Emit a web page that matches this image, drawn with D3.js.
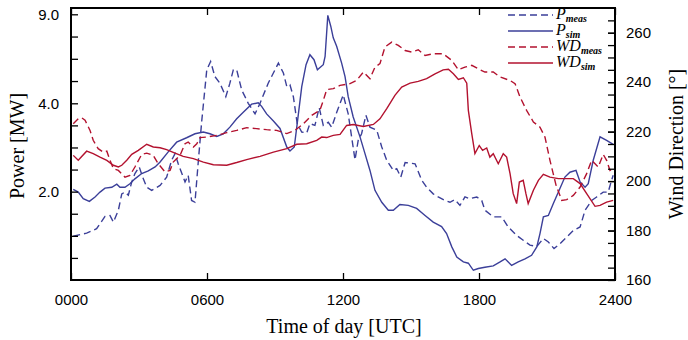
<!DOCTYPE html>
<html>
<head>
<meta charset="utf-8">
<script src="https://cdn.jsdelivr.net/npm/d3@7"></script>
<style>
  body { margin: 0; background: #fff; }
</style>
</head>
<body>
<div id="chart"></div>
<script>
const width = 688;
const height = 340;
const margin = {top: 8, right: 73, bottom: 60, left: 71};

// time of day in hours, power in MW, wind direction in degrees
const timeTicks = [0, 6, 12, 18, 24];
const timeLabels = ["0000", "0600", "1200", "1800", "2400"];
const powerTicks = [2, 4, 9];
const powerMinor = [0.5, 1, 1.5, 2.5, 3, 3.5, 5.25, 6.5, 7.75];
const wdTicks = [160, 180, 200, 220, 240, 260];
const wdMinor = d3.range(165, 270, 5);

const pMeas = [
  [0.10,0.99],[0.69,1.06],[1.13,1.16],[1.50,1.44],[1.72,1.46],[1.87,1.31],[2.09,1.58],[2.24,1.95],
  [2.38,1.99],[2.53,1.92],[2.68,2.22],[2.82,2.41],[3.01,2.56],[3.16,2.33],[3.34,2.10],[3.56,2.03],
  [3.93,2.14],[4.22,2.33],[4.44,2.71],[4.59,2.86],[4.73,2.63],[5.03,2.22],[5.17,2.37],[5.32,1.80],
  [5.47,1.76],[5.62,2.71],[5.77,3.61],[5.99,5.88],[6.16,6.35],[6.35,5.50],[6.57,5.13],[6.83,4.37],
  [7.01,5.13],[7.16,5.88],[7.31,5.88],[7.53,4.75],[7.82,4.00],[8.12,3.76],[8.34,4.00],[8.70,5.13],
  [9.15,6.26],[9.37,5.70],[9.52,4.94],[9.66,5.04],[9.81,4.37],[9.98,3.54],[10.18,3.35],[10.40,3.33],
  [10.54,3.54],[10.76,3.50],[10.95,3.90],[11.13,3.50],[11.35,3.57],[11.50,3.46],[11.72,3.79],[12.01,4.47],
  [12.23,3.76],[12.53,2.72],[12.67,3.16],[12.82,3.31],[13.01,3.73],[13.19,3.46],[13.49,3.39],[13.71,3.01],
  [13.93,2.71],[14.22,2.48],[14.37,2.52],[14.55,2.33],[14.74,2.66],[15.18,2.63],[15.47,2.26],[15.69,2.10],
  [15.98,1.95],[16.20,1.88],[16.50,1.80],[16.72,1.76],[16.94,1.82],[17.16,1.69],[17.38,1.88],[17.60,1.84],
  [17.90,1.88],[18.12,1.80],[18.26,1.58],[18.63,1.43],[19.00,1.43],[19.29,1.20],[19.66,1.01],[19.95,0.90],
  [20.25,0.79],[20.55,0.76],[20.84,0.94],[21.06,0.86],[21.31,0.71],[21.57,0.82],[21.87,0.97],[22.16,1.12],
  [22.46,1.20],[22.68,1.58],[22.97,1.80],[23.19,1.88],[23.48,1.99],[23.70,1.99],[23.85,2.26],[23.92,2.37]
];

const pSim = [
  [0.10,2.05],[0.32,1.99],[0.54,1.84],[0.81,1.78],[1.06,1.88],[1.28,1.99],[1.50,2.08],[1.80,2.10],
  [2.02,2.17],[2.16,2.10],[2.38,2.10],[2.60,2.18],[2.82,2.29],[3.12,2.41],[3.41,2.47],[3.71,2.56],
  [3.93,2.67],[4.29,2.90],[4.66,3.12],[5.10,3.22],[5.47,3.31],[5.84,3.35],[6.13,3.31],[6.43,3.25],
  [6.72,3.31],[7.01,3.46],[7.31,3.65],[7.60,3.80],[7.97,3.98],[8.26,4.03],[8.41,3.93],[8.63,3.76],
  [8.93,3.60],[9.22,3.43],[9.52,3.01],[9.66,2.92],[9.85,3.01],[9.98,3.54],[10.18,4.94],[10.37,6.17],
  [10.54,6.73],[10.72,6.45],[10.87,5.88],[11.13,6.17],[11.21,6.64],[11.33,8.94],[11.46,8.33],[11.57,7.68],
  [11.72,7.20],[11.94,6.26],[12.09,5.50],[12.23,4.37],[12.45,3.69],[12.75,3.24],[12.97,2.86],[13.19,2.48],
  [13.41,2.03],[13.71,1.76],[14.00,1.58],[14.22,1.58],[14.51,1.71],[14.88,1.69],[15.25,1.62],[15.62,1.46],
  [15.98,1.31],[16.35,1.21],[16.57,1.05],[16.80,0.75],[17.02,0.52],[17.31,0.41],[17.53,0.38],[17.75,0.22],
  [17.97,0.26],[18.26,0.29],[18.63,0.32],[18.93,0.41],[19.15,0.48],[19.44,0.33],[19.73,0.41],[20.03,0.48],
  [20.32,0.56],[20.55,0.75],[20.69,1.05],[20.84,1.43],[21.06,1.46],[21.28,1.73],[21.57,2.07],[21.79,2.33],
  [22.01,2.44],[22.28,2.48],[22.46,2.22],[22.68,2.10],[22.82,2.18],[23.04,2.71],[23.34,3.24],[23.63,3.16],
  [23.92,3.07]
];

const wdMeas = [
  [0.10,223.2],[0.32,225.2],[0.47,225.6],[0.62,224.6],[0.84,220.5],[0.98,216.5],[1.20,213.1],[1.42,211.7],
  [1.58,212.1],[1.72,208.4],[1.87,205.0],[2.09,204.3],[2.38,201.6],[2.60,202.3],[2.82,205.7],[3.12,210.8],
  [3.34,211.3],[3.63,210.4],[3.85,207.0],[4.15,203.7],[4.37,204.3],[4.51,207.7],[4.81,210.4],[5.03,215.1],
  [5.17,215.8],[5.40,213.8],[5.55,215.1],[5.69,217.6],[5.99,217.8],[6.43,218.5],[6.87,219.6],[7.31,220.5],
  [7.75,221.6],[8.19,221.2],[8.63,220.8],[9.07,220.5],[9.52,219.2],[9.88,220.5],[10.25,223.2],[10.62,226.6],
  [10.98,228.6],[11.13,232.6],[11.28,237.0],[11.57,237.4],[11.87,238.7],[12.31,239.4],[12.60,240.7],[12.90,244.1],
  [13.19,241.4],[13.41,246.1],[13.63,247.5],[13.85,254.2],[14.15,256.2],[14.44,254.9],[14.74,252.8],[15.03,252.2],
  [15.32,253.1],[15.62,250.8],[15.98,251.5],[16.42,251.5],[16.80,248.8],[17.09,245.0],[17.38,246.1],[17.68,246.8],
  [17.97,245.4],[18.26,244.1],[18.63,244.1],[18.93,242.1],[19.37,240.7],[19.59,239.4],[19.81,234.0],[20.10,228.6],
  [20.40,223.9],[20.69,221.8],[20.91,217.8],[21.13,208.4],[21.40,198.3],[21.65,192.2],[21.87,192.5],[22.16,194.2],
  [22.46,197.6],[22.75,203.0],[22.97,208.4],[23.12,207.0],[23.26,205.7],[23.48,210.8],[23.63,208.4],[23.78,204.3],
  [23.92,205.0]
];

const wdSim = [
  [0.10,210.4],[0.32,208.4],[0.69,212.1],[0.98,211.1],[1.28,209.7],[1.58,208.4],[1.87,206.4],[2.09,205.7],
  [2.24,206.4],[2.46,208.4],[2.68,210.8],[2.97,212.4],[3.34,214.9],[3.63,213.8],[3.93,213.5],[4.22,212.7],
  [4.59,211.3],[4.95,210.0],[5.40,209.1],[5.84,207.7],[6.28,206.6],[6.87,206.4],[7.31,207.5],[7.75,208.7],
  [8.34,210.0],[8.93,211.7],[9.52,213.1],[9.96,214.9],[10.40,215.1],[10.84,216.5],[11.06,217.8],[11.28,217.6],
  [11.57,218.5],[11.87,218.9],[12.16,222.5],[12.45,222.9],[12.90,222.1],[13.34,222.9],[13.63,225.2],[13.93,229.3],
  [14.29,234.7],[14.59,238.0],[14.96,239.6],[15.32,240.3],[15.69,241.4],[16.06,243.4],[16.42,245.0],[16.65,245.2],
  [16.87,243.4],[17.09,241.1],[17.31,241.8],[17.46,239.6],[17.53,228.6],[17.68,219.2],[17.82,211.1],[18.01,214.4],
  [18.16,212.4],[18.34,213.4],[18.48,209.7],[18.63,211.1],[18.85,207.0],[19.07,211.1],[19.22,209.7],[19.37,203.0],
  [19.51,194.9],[19.66,190.9],[19.78,199.6],[19.95,200.3],[20.07,194.9],[20.17,190.9],[20.40,196.3],[20.62,200.3],
  [20.84,202.7],[21.13,201.6],[21.50,201.0],[21.79,201.0],[22.16,201.0],[22.46,199.0],[22.75,194.9],[23.12,189.8],
  [23.34,190.2],[23.63,191.5],[23.92,192.2]
];

const blue = "#3b3f99";
const red = "#b3122f";

const series = [
  {name: "P", sub: "meas", data: pMeas, axis: "power", color: blue, dash: "7,4"},
  {name: "P", sub: "sim", data: pSim, axis: "power", color: blue, dash: null},
  {name: "WD", sub: "meas", data: wdMeas, axis: "wd", color: red, dash: "7,4"},
  {name: "WD", sub: "sim", data: wdSim, axis: "wd", color: red, dash: null}
];

const svg = d3.select("#chart").append("svg")
  .attr("width", width)
  .attr("height", height);

const x0 = margin.left, x1 = width - margin.right;
const y0 = height - margin.bottom, y1 = margin.top;

const x = d3.scaleLinear().domain([0, 24]).range([x0, x1]);
// power axis: 0-4 MW linear, then stretched up to 9 MW
const yP = d3.scaleLinear().domain([0, 4, 9]).range([y0, 103.3, 14.3]);
const yW = d3.scaleLinear().domain([160, 270]).range([y0, y1]);

const tickFont = "'Liberation Sans', Arial, sans-serif";
const serif = "'Liberation Serif', 'Times New Roman', serif";

// lines
svg.append("clipPath").attr("id", "plot")
  .append("rect").attr("x", x0).attr("y", y1).attr("width", x1 - x0).attr("height", y0 - y1);

const lines = svg.append("g").attr("clip-path", "url(#plot)");
series.forEach(s => {
  const yy = s.axis === "power" ? yP : yW;
  lines.append("path")
    .datum(s.data)
    .attr("fill", "none")
    .attr("stroke", s.color)
    .attr("stroke-width", 1.4)
    .attr("stroke-dasharray", s.dash)
    .attr("d", d3.line().x(d => x(d[0])).y(d => yy(d[1])));
});

// axes
svg.append("g")
  .attr("transform", `translate(0,${y0})`)
  .call(d3.axisBottom(x).tickValues(timeTicks).tickFormat((d, i) => timeLabels[i]).tickSize(-7).tickPadding(14));
svg.append("g")
  .attr("transform", `translate(0,${y1})`)
  .call(d3.axisTop(x).tickValues(timeTicks).tickFormat("").tickSize(-7));
svg.append("g")
  .attr("transform", `translate(${x0},0)`)
  .call(d3.axisLeft(yP).tickValues(powerTicks).tickFormat(d3.format(".1f")).tickSize(-7).tickPadding(12));
svg.append("g")
  .attr("transform", `translate(${x0},0)`)
  .call(d3.axisLeft(yP).tickValues(powerMinor).tickFormat("").tickSize(-7));
svg.append("g")
  .attr("transform", `translate(${x1},0)`)
  .call(d3.axisRight(yW).tickValues(wdTicks).tickSize(-7).tickPadding(11));
svg.append("g")
  .attr("transform", `translate(${x1},0)`)
  .call(d3.axisRight(yW).tickValues(wdMinor).tickFormat("").tickSize(-7));

svg.selectAll(".domain").remove();
svg.selectAll(".tick line").attr("stroke", "#000").attr("stroke-width", 1.3);
svg.selectAll(".tick text")
  .attr("fill", "#000")
  .style("font-family", tickFont)
  .style("font-size", "15px");

// frame
svg.append("rect")
  .attr("x", x0).attr("y", y1)
  .attr("width", x1 - x0).attr("height", y0 - y1)
  .attr("fill", "none")
  .attr("stroke", "#000")
  .attr("stroke-width", 2);

// axis titles
svg.append("text")
  .attr("x", (x0 + x1) / 2 + 1)
  .attr("y", 333)
  .attr("text-anchor", "middle")
  .style("font-family", serif)
  .style("font-size", "20px")
  .text("Time of day [UTC]");

svg.append("text")
  .attr("transform", `translate(24,${(y0 + y1) / 2 + 2}) rotate(-90)`)
  .attr("text-anchor", "middle")
  .style("font-family", serif)
  .style("font-size", "20px")
  .text("Power [MW]");

svg.append("text")
  .attr("transform", `translate(683,${(y0 + y1) / 2}) rotate(-90)`)
  .attr("text-anchor", "middle")
  .style("font-family", serif)
  .style("font-size", "20px")
  .text("Wind Direction [°]");

// legend
const legend = svg.append("g").attr("transform", "translate(508,15)");
series.forEach((s, i) => {
  const row = legend.append("g").attr("transform", `translate(0,${i * 16})`);
  row.append("line")
    .attr("x1", 0).attr("x2", 45)
    .attr("stroke", s.color)
    .attr("stroke-width", 1.4)
    .attr("stroke-dasharray", s.dash);
  const t = row.append("text")
    .attr("x", 48)
    .attr("y", 4)
    .style("font-family", serif)
    .style("font-style", "italic")
    .style("font-size", "16px");
  t.append("tspan").text(s.name);
  t.append("tspan")
    .attr("dy", 2.5)
    .style("font-size", "10px")
    .style("font-weight", "bold")
    .text(s.sub);
});
</script>
</body>
</html>
